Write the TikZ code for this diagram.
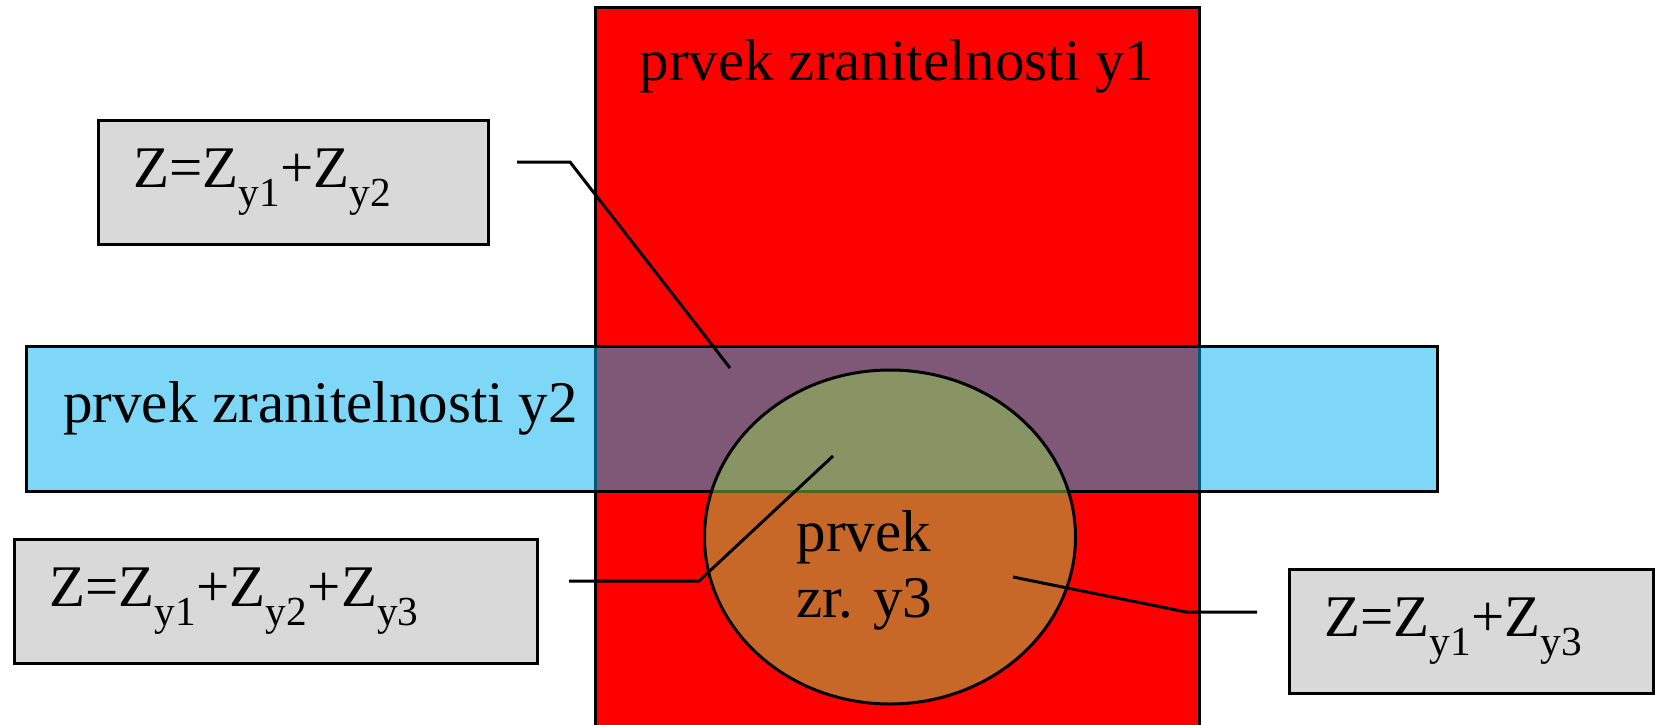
\documentclass[tikz,border=0pt]{standalone}
\usepackage{fontspec}
\setmainfont{Liberation Serif}
\usepackage{tikz}
\usetikzlibrary{calc,positioning,shapes.geometric}
\definecolor{prvekred}{HTML}{FF0000}
\definecolor{prvekblue}{HTML}{00B0F0}
\definecolor{prvekgreen}{HTML}{92D050}
\definecolor{zgray}{HTML}{D9D9D9}
\newcommand{\zfont}{\fontsize{59}{66}\selectfont}
\tikzset{
  vrstva/.style={
      draw,
      line width=3pt,
  },
  zbox/.style={
      draw,
      line width=3pt,
      fill=zgray,
      anchor=north west,
      inner xsep=35pt,
      inner ysep=0pt,
      minimum height=124pt,
      text width=#1,
      align=left,
      font=\zfont
  },
  popis/.style={
      inner sep=0pt,
      font=\zfont
  },
  spoj/.style={
      line width=3pt
  },
}

\begin{document}
\begin{tikzpicture}[x=1pt,y=-1pt]
  \clip (0,0) rectangle (1660,724);
  \fill[white] (0,0) rectangle (1660,724);

  % vrstvy
  \draw[vrstva, fill=prvekred] (595,7) rectangle (1199,740);
  \draw[vrstva, fill=prvekblue, fill opacity=0.5] (26,346) rectangle (1437,491);
  \node[vrstva, ellipse, fill=prvekgreen, fill opacity=0.5, inner sep=0pt,
        minimum width=371pt, minimum height=334pt] (y3) at (890,537) {};

  \node[popis] (ty1) at (897,66) {prvek zranitelnosti y1};
  \node[popis, anchor=west] (ty2) at (63,408) {prvek zranitelnosti y2};
  \node[popis, align=center] (ty3) at (864,570) {prvek\\zr. y3};

  % souctove boxy
  \node[zbox=320pt] (z12) at (97,119) {Z=Z\textsubscript{y1}+Z\textsubscript{y2}};
  \node[zbox=453pt] (z123) at (13,538) {Z=Z\textsubscript{y1}+Z\textsubscript{y2}+Z\textsubscript{y3}};
  \node[zbox=294pt] (z13) at (1288,568) {Z=Z\textsubscript{y1}+Z\textsubscript{y3}};

  % spojnice
  \coordinate (k1a) at (517,162);
  \coordinate (k1b) at (570,162);
  \coordinate (k1c) at (730,368);
  \coordinate (k2a) at (569,581);
  \coordinate (k2b) at (699,581);
  \coordinate (k2c) at (833,456);
  \coordinate (k3a) at (1257,612);
  \coordinate (k3b) at (1186,612);
  \coordinate (k3c) at (1013,577);
  \draw[spoj] (k1a) -- (k1b) -- (k1c);
  \draw[spoj] (k2a) -- (k2b) -- (k2c);
  \draw[spoj] (k3a) -- (k3b) -- (k3c);
\end{tikzpicture}
\end{document}
